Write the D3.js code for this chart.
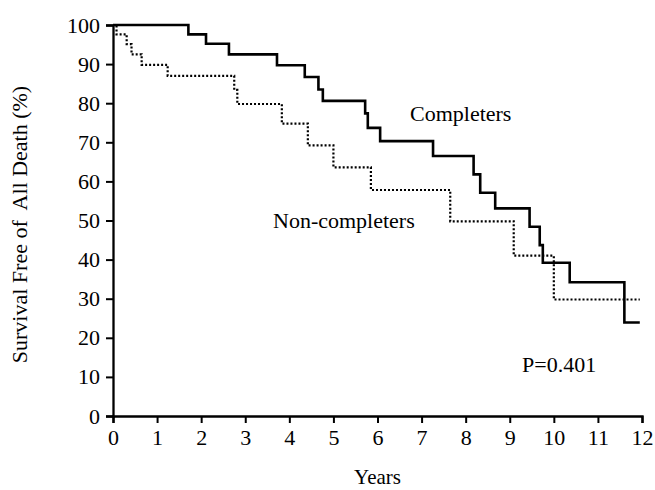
<!DOCTYPE html>
<html>
<head>
<meta charset="utf-8">
<script src="https://cdn.jsdelivr.net/npm/d3@7"></script>
<style>
  body { margin: 0; background: #fff; }
  text { font-family: "Liberation Serif", "Times New Roman", serif; fill: #000; }
</style>
</head>
<body>
<div id="chart"></div>
<script>
// Kaplan-Meier steps: time (years) at which survival changes, and new survival (%)
const completerTimes = [0, 1.71, 2.11, 2.63, 3.72, 4.35, 4.66, 4.76, 5.72, 5.78, 6.06, 7.26, 8.18, 8.33, 8.67, 9.45, 9.68, 9.75, 10.36, 11.6, 11.95];
const completerSurv  = [100, 97.6, 95.2, 92.5, 89.7, 86.7, 83.5, 80.6, 77.4, 73.7, 70.3, 66.5, 61.8, 57.1, 53.1, 48.4, 43.7, 39.2, 34.2, 23.9, 23.9];

const nonCompleterTimes = [0, 0.08, 0.31, 0.42, 0.65, 1.24, 2.75, 2.82, 3.83, 4.42, 5.0, 5.85, 7.65, 9.09, 10.0, 11.95];
const nonCompleterSurv  = [100, 97.6, 95.1, 92.5, 89.8, 87.0, 83.4, 79.8, 74.8, 69.2, 63.6, 57.8, 49.8, 41.0, 29.8, 29.8];

const xTicks = d3.range(0, 13, 1);
const yTicks = d3.range(0, 101, 10);

const W = 655, H = 490;
const margin = { top: 25, right: 13, bottom: 74, left: 113 };
const width = W - margin.left - margin.right;
const height = H - margin.top - margin.bottom;

const svg = d3.select("#chart").append("svg")
    .attr("width", W)
    .attr("height", H);

const g = svg.append("g")
    .attr("transform", `translate(${margin.left},${margin.top})`);

const x = d3.scaleLinear().domain([0, 12]).range([0, width]);
const y = d3.scaleLinear().domain([0, 100]).range([height, 0]);

// axes
const xAxis = g.append("g")
    .attr("transform", `translate(0,${height})`)
    .call(d3.axisBottom(x).tickValues(xTicks).tickSize(7).tickPadding(6).tickFormat(d3.format("d")));

const yAxis = g.append("g")
    .call(d3.axisLeft(y).tickValues(yTicks).tickSize(7).tickPadding(6).tickFormat(d3.format("d")));

[xAxis, yAxis].forEach(a => {
    a.select(".domain").attr("stroke", "#000").attr("stroke-width", 2.3);
    a.selectAll(".tick line").attr("stroke", "#000").attr("stroke-width", 2);
    a.selectAll(".tick text")
        .style("font-family", "'Liberation Serif', 'Times New Roman', serif")
        .style("font-size", "22px")
        .attr("fill", "#000");
});

// curves
const line = d3.line()
    .x(d => x(d[0]))
    .y(d => y(d[1]))
    .curve(d3.curveStepAfter);

const completers = completerTimes.map((t, i) => [t, completerSurv[i]]);
const nonCompleters = nonCompleterTimes.map((t, i) => [t, nonCompleterSurv[i]]);

g.append("path")
    .datum(nonCompleters)
    .attr("fill", "none")
    .attr("stroke", "#000")
    .attr("stroke-width", 2.2)
    .attr("stroke-dasharray", "2,2")
    .attr("d", line);

g.append("path")
    .datum(completers)
    .attr("fill", "none")
    .attr("stroke", "#000")
    .attr("stroke-width", 2.6)
    .attr("d", line);

// labels
svg.append("text")
    .attr("x", 410).attr("y", 121)
    .style("font-size", "22px")
    .text("Completers");

svg.append("text")
    .attr("x", 273).attr("y", 228)
    .style("font-size", "22px")
    .text("Non-completers");

svg.append("text")
    .attr("x", 522).attr("y", 372)
    .style("font-size", "22px")
    .text("P=0.401");

svg.append("text")
    .attr("x", margin.left + width / 2)
    .attr("y", 484)
    .attr("text-anchor", "middle")
    .style("font-size", "21px")
    .text("Years");

svg.append("text")
    .attr("transform", `translate(27,${margin.top + height / 2 + 4}) rotate(-90)`)
    .attr("text-anchor", "middle")
    .style("font-size", "22px")
    .style("white-space", "pre")
    .text("Survival Free of  All Death (%)");
</script>
</body>
</html>
